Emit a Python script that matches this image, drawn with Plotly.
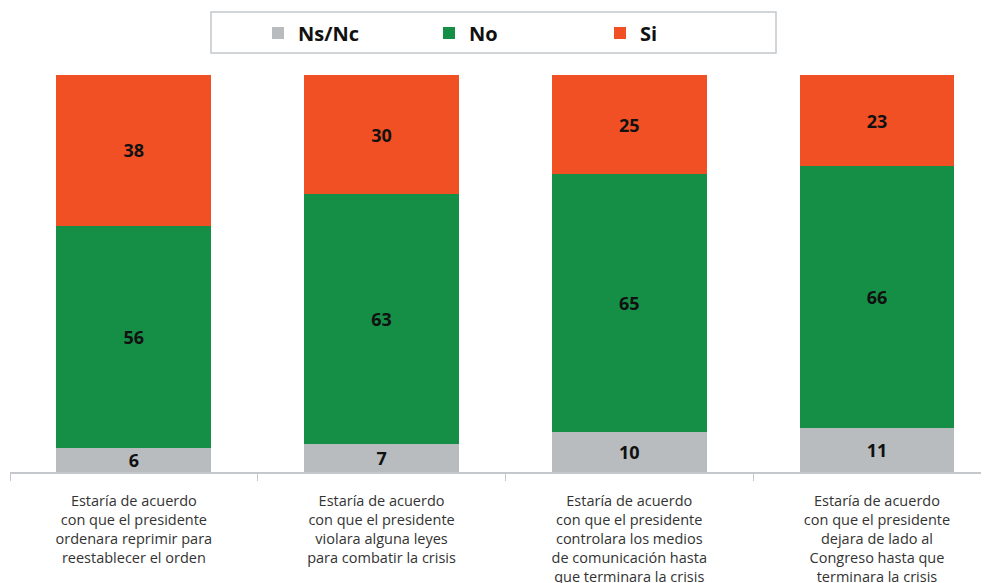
import plotly.graph_objects as go

categories = [
    "Estaría de acuerdo<br>con que el presidente<br>ordenara reprimir para<br>reestablecer el orden",
    "Estaría de acuerdo<br>con que el presidente<br>violara alguna leyes<br>para combatir la crisis",
    "Estaría de acuerdo<br>con que el presidente<br>controlara los medios<br>de comunicación hasta<br>que terminara la crisis",
    "Estaría de acuerdo<br>con que el presidente<br>dejara de lado al<br>Congreso hasta que<br>terminara la crisis",
]
ns_nc = [6, 7, 10, 11]
no = [56, 63, 65, 66]
si = [38, 30, 25, 23]

series = [
    ("Ns/Nc", ns_nc, "#b8bcbf"),
    ("No", no, "#168f46"),
    ("Si", si, "#f15025"),
]

# page body has an 8px margin, so positions are shifted back by 8px
OFF = 8
L, T, PW, PH = 10 - OFF, 75 - OFF, 979, 397

fig = go.Figure()
for name, vals, color in series:
    fig.add_trace(go.Bar(
        x=categories, y=vals, name=name,
        marker=dict(color=color, line=dict(width=0)),
        width=0.625,
        text=vals, textposition="inside", insidetextanchor="middle",
        textangle=0,
        textfont=dict(family="Open Sans", size=18, color="#111111", weight="bold"),
    ))

# legend frame
fig.add_shape(type="rect", xref="paper", yref="paper",
              x0=(211 - 10) / PW, x1=(776 - 10) / PW,
              y0=1 + (75 - 53) / PH, y1=1 + (75 - 12) / PH,
              line=dict(color="#c4c8cc", width=1.5), fillcolor="white", layer="below")

fig.update_layout(
    barmode="stack",
    width=989, height=583,
    margin=dict(l=L, r=989 - L - PW, t=T, b=583 - T - PH),
    plot_bgcolor="white", paper_bgcolor="white",
    font=dict(family="Open Sans", color="#333333"),
    uniformtext=dict(minsize=18, mode="show"),
    legend=dict(
        orientation="h", traceorder="normal",
        x=(258 - 10) / PW, xanchor="left",
        y=1 + (75 - 33) / PH, yanchor="middle",
        font=dict(family="Open Sans", size=20, color="#111111", weight="bold"),
        entrywidth=126, itemwidth=30,
        bgcolor="rgba(0,0,0,0)",
    ),
    showlegend=True,
)
fig.update_xaxes(
    range=[-0.5, -0.5 + PW / 247.7],
    showline=True, linecolor="#c4c8cc", linewidth=1.5,
    ticks="outside", tickson="boundaries", ticklen=7, tickcolor="#c4c8cc",
    tickfont=dict(family="Open Sans", size=14.5, color="#333333"),
    ticklabelstandoff=15,
    showgrid=False,
)
fig.update_yaxes(range=[0, 100], visible=False, showgrid=False)

fig.write_html("out.html")
